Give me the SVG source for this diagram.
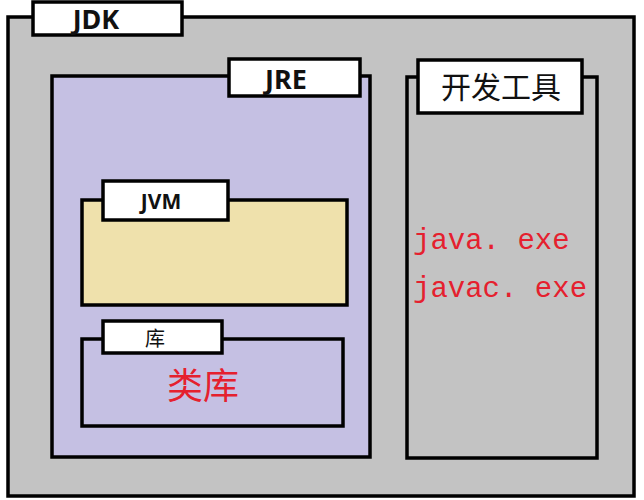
<svg xmlns="http://www.w3.org/2000/svg" width="644" height="500" viewBox="0 0 644 500">
<style>
.frame{stroke:#000;stroke-width:3.5}
.tab{fill:#fff;stroke:#000;stroke-width:3.5}
.lbl{font-family:"Noto Sans","Noto Sans CJK SC",sans-serif;fill:#111;text-anchor:middle}
.red{fill:#e5202e}
.mono{font-family:"Liberation Mono","DejaVu Sans Mono",monospace;font-size:29px}
</style>
<rect width="644" height="500" fill="#fff"/>
<g id="jdk">
<rect class="frame" x="8" y="17" width="626" height="479" fill="#c3c3c3"/>
<rect class="tab" x="33" y="2" width="149" height="33"/>
<text class="lbl" x="96" y="29" font-size="27" font-weight="bold">JDK</text>
</g>
<g id="jre">
<rect class="frame" x="52" y="76" width="318" height="381" fill="#c5c0e3"/>
<rect class="tab" x="229" y="59" width="131" height="37"/>
<text class="lbl" x="286" y="89" font-size="27" font-weight="bold">JRE</text>
</g>
<g id="devtools">
<rect class="frame" x="407" y="77" width="190" height="381" fill="#c3c3c3"/>
<rect class="tab" x="418" y="60" width="164" height="53"/>
<text class="lbl" x="501" y="98" font-size="30">开发工具</text>
<text class="red mono" x="413" y="249">java. exe</text>
<text class="red mono" x="413" y="297">javac. exe</text>
</g>
<g id="jvm">
<rect class="frame" x="82" y="200" width="265" height="105" fill="#efe1ac"/>
<rect class="tab" x="103" y="181" width="125" height="39"/>
<text class="lbl" x="161" y="209" font-size="21" font-weight="bold">JVM</text>
</g>
<g id="lib">
<rect class="frame" x="82" y="339" width="261" height="87" fill="none"/>
<rect class="tab" x="103" y="321" width="119" height="32"/>
<text class="lbl" x="155" y="346" font-size="20">库</text>
<text class="lbl red" x="203" y="399" font-size="36">类库</text>
</g>
<g id="connectors"></g>
</svg>
